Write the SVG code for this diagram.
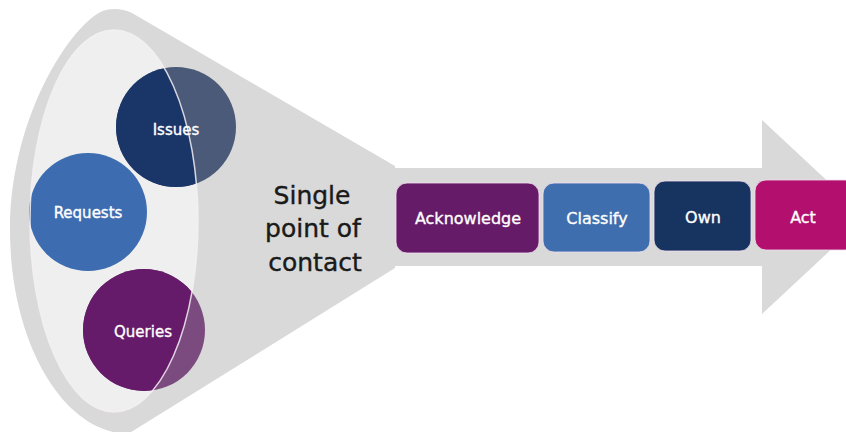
<svg xmlns="http://www.w3.org/2000/svg" width="846" height="432" viewBox="0 0 846 432">
  <style>
    .gray { fill: #d9d9d9; }
    .lbl { font-family: "DejaVu Sans", Verdana, sans-serif; fill: #ffffff; stroke: #ffffff; stroke-width: 0.35; text-anchor: middle; }
    .clbl { font-size: 15px; }
    .blbl { font-size: 16px; }
    .big { font-family: "DejaVu Sans", Verdana, sans-serif; font-size: 25px; fill: #1a1a1a; stroke: #1a1a1a; stroke-width: 0.4; text-anchor: middle; }
    .box { stroke: #f3dff0; stroke-width: 1; stroke-opacity: 0.8; }
  </style>
  <defs>
    <clipPath id="inner">
      <ellipse cx="114" cy="221" rx="84" ry="191"/>
    </clipPath>
  </defs>
  <rect width="846" height="432" fill="#ffffff"/>

  <g id="funnel">
    <path class="gray" d="M 395 166 L 132 13 C 124 9 114 8 106 10 C 78 16 10 110 10 230 C 10 341 62 432 128 434 L 395 268 Z"/>
    <ellipse cx="114" cy="221" rx="84" ry="191" fill="#efefef"/>
  </g>

  <g id="connectors">
    <path id="process-arrow" class="gray" d="M 393 168 L 762 168 L 762 120 L 866 217 L 762 314 L 762 266 L 393 266 Z"/>
  </g>

  <g id="issues">
    <circle cx="176" cy="127" r="60" fill="#4b5a78"/>
    <circle cx="176" cy="127" r="60" fill="#1a3668" clip-path="url(#inner)"/>
  </g>
  <g id="requests">
    <circle cx="88" cy="212" r="59" fill="#3d6db0"/>
  </g>
  <g id="queries">
    <circle cx="144" cy="330" r="61" fill="#7b4a7e"/>
    <circle cx="144" cy="330" r="61" fill="#661a6a" clip-path="url(#inner)"/>
  </g>
  <ellipse id="inner-rim" cx="114" cy="221" rx="84" ry="191" fill="none" stroke="#f4f0f4" stroke-width="1.5" stroke-opacity="0.85"/>
  <text class="lbl clbl" x="176" y="135">Issues</text>
  <text class="lbl clbl" x="88" y="218">Requests</text>
  <text class="lbl clbl" x="143" y="337">Queries</text>

  <g id="single-point">
    <text class="big" x="312" y="204">Single</text>
    <text class="big" x="313" y="237">point of</text>
    <text class="big" x="315" y="271">contact</text>
  </g>

  <g id="acknowledge">
    <rect class="box" x="396" y="183" width="143" height="70" rx="11" fill="#651b68"/>
    <text class="lbl blbl" x="468" y="224">Acknowledge</text>
  </g>
  <g id="classify">
    <rect class="box" x="543" y="183" width="107" height="69" rx="11" fill="#3f6eae"/>
    <text class="lbl blbl" x="597" y="224">Classify</text>
  </g>
  <g id="own">
    <rect class="box" x="654" y="181" width="97" height="70" rx="11" fill="#17335f"/>
    <text class="lbl blbl" x="703" y="223">Own</text>
  </g>
  <g id="act">
    <rect class="box" x="755" y="180" width="101" height="70" rx="11" fill="#b30f6f"/>
    <text class="lbl blbl" x="803" y="223">Act</text>
  </g>
</svg>
